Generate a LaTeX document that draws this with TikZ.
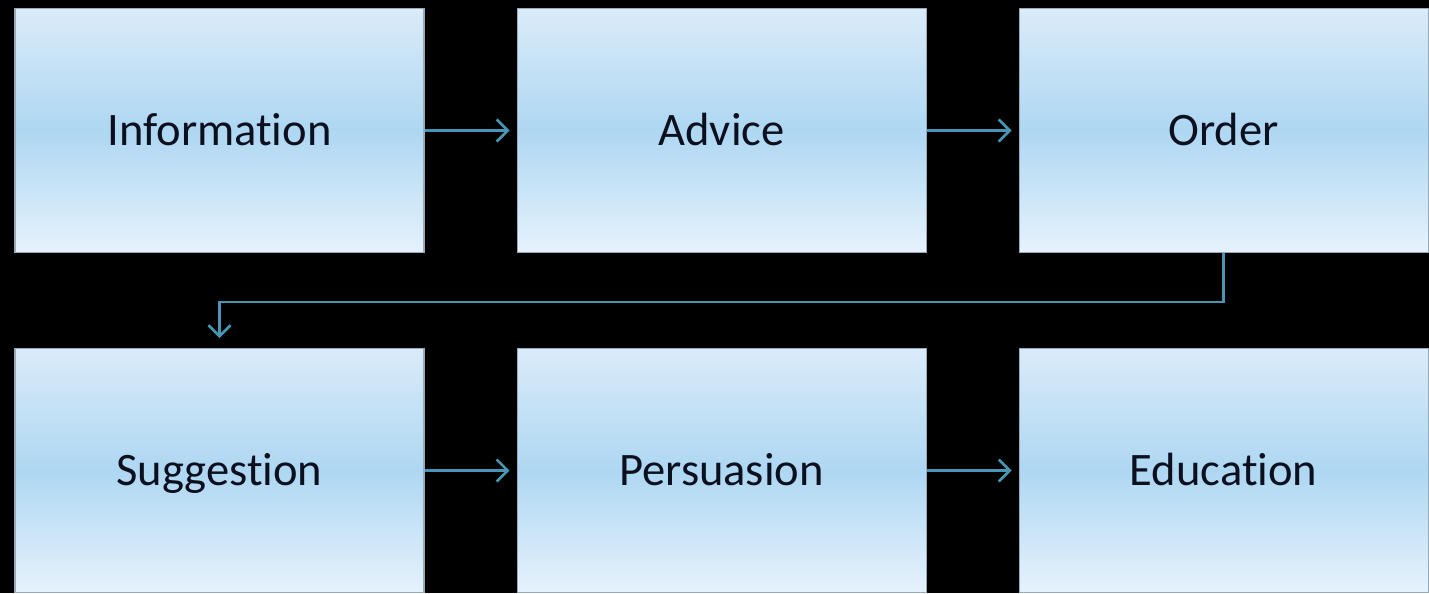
\documentclass[tikz,border=0pt]{standalone}
\usepackage{fontspec}
\setmainfont[RawFeature={-liga;-calt;-dlig}]{Carlito}
\usetikzlibrary{arrows.meta, positioning}
\definecolor{boxtop}{RGB}{218,235,249}
\definecolor{boxmid}{RGB}{174,215,242}
\definecolor{boxbot}{RGB}{230,242,252}
\definecolor{boxline}{RGB}{150,170,185}
\definecolor{flowline}{RGB}{72,150,182}
\definecolor{txt}{RGB}{12,16,30}

\begin{document}
\begin{tikzpicture}[
  font=\fontsize{26.5}{30}\selectfont,
  stage/.style={draw=boxline, line width=0.6pt, top color=boxtop, bottom color=boxbot,
                middle color=boxmid, text=txt, minimum width=8.18cm, minimum height=4.88cm,
                inner sep=0pt, text height=22pt, text depth=5pt},
  flow/.style={-{Straight Barb[length=2.2mm, width=4.4mm]}, draw=flowline, line width=1.5pt,
               shorten >=1.4mm},
  node distance=1.9cm and 1.84cm,
]
% black page, fixes the size
\fill[black] (0,0) rectangle (28.58,11.86);
\useasboundingbox (0,0) rectangle (28.58,11.86);

\node[stage] (info) at (4.39,9.25) {Information};
\node[stage, right=of info] (adv) {Advice};
\node[stage, right=of adv] (ord) {Order};
\node[stage, below=of info] (sugg) {Suggestion};
\node[stage, right=of sugg] (pers) {Persuasion};
\node[stage, right=of pers] (edu) {Education};

\foreach \a/\b in {info/adv, adv/ord, sugg/pers, pers/edu}
  \draw[flow] (\a) -- (\b);

% wrap from the end of the top row to the start of the bottom row
\draw[flow, shorten >=2mm] (ord.south) -- ++(0,-0.98) -| (sugg.north);
\end{tikzpicture}
\end{document}
